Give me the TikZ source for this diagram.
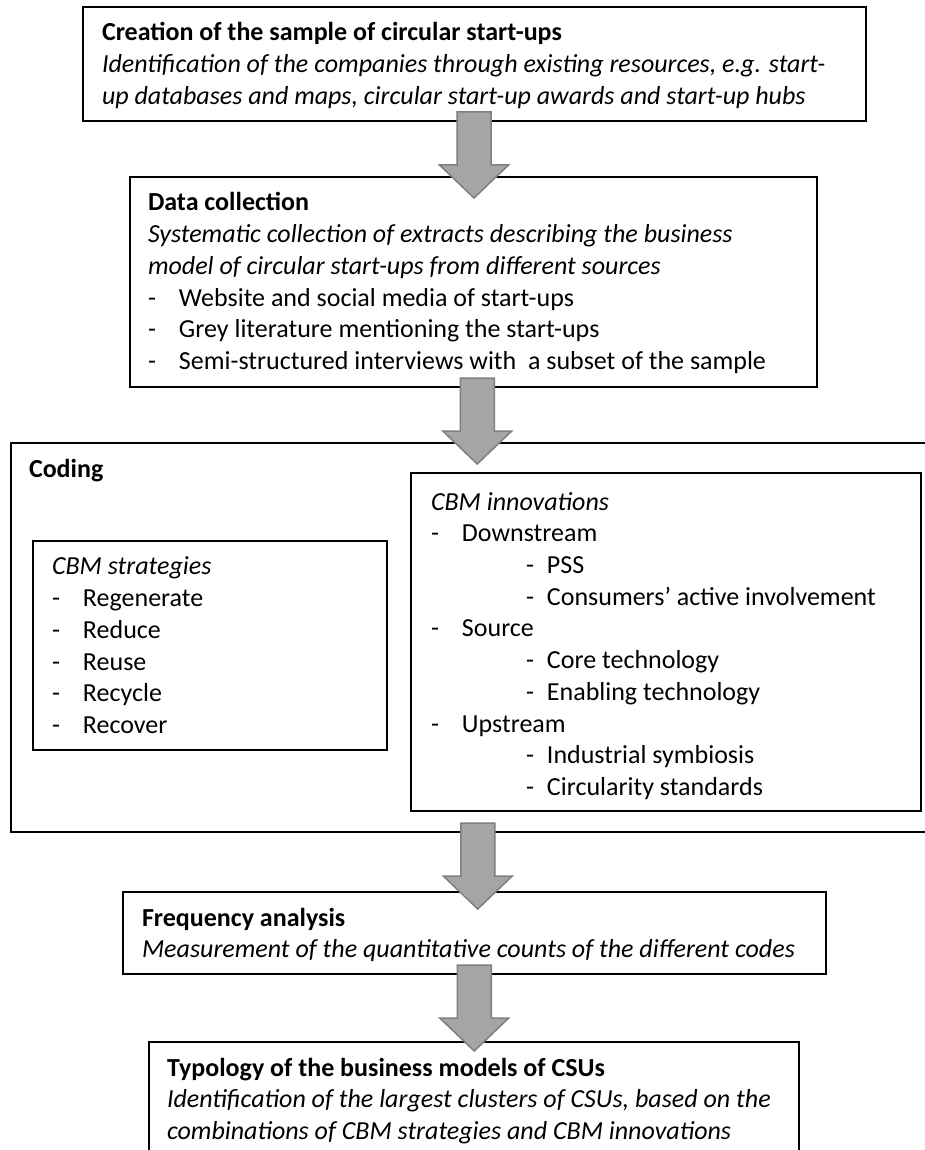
\documentclass[tikz,border=0pt]{standalone}
\usepackage{fontspec}
\setmainfont{Carlito}
\usetikzlibrary{calc}
\definecolor{arrowfill}{RGB}{165,165,165}
\definecolor{arrowedge}{RGB}{127,127,127}
\tikzset{
  box/.style={draw=black, line width=1.8pt, fill=white, inner sep=0pt, outer sep=0pt, anchor=north west},
  body/.style={anchor=north west, inner sep=0pt, outer sep=0pt, align=left,
               font=\fontsize{26}{31.7}\selectfont},
  blockarrow/.style={draw=arrowedge, fill=arrowfill, line width=1.5pt, line join=miter},
}
% block arrow from the bottom of one stage to the top of the next
\newcommand\stagearrow[2]{%
  \path[blockarrow] let \p1=(#1.south), \p2=(#2.north),
      \p3=($(\p1)!0.5!(\p2)$) in
    (\x3-17pt,\y1+9pt) -- ++(0pt,-53pt) -- ++(-17.5pt,0pt) -- ++(34.5pt,-33pt)
    -- ++(34.5pt,33pt) -- ++(-17.5pt,0pt) -- ++(0pt,53pt) -- cycle;}
\newcommand\dashitem[1]{\makebox[31pt][l]{-}#1}
\newcommand\nesteditem[1]{\hspace*{95pt}\makebox[21pt][l]{-}#1}
\begin{document}
\begin{tikzpicture}[x=1pt,y=-1pt]
\clip (0,0) rectangle (925,1150);
\fill[white] (0,0) rectangle (925,1150);

% stage boxes
\node[box, minimum width=783pt, minimum height=114pt] (create) at (83,7) {};
\node[box, minimum width=687pt, minimum height=210pt] (collect) at (130,177) {};
\node[box, minimum width=940pt, minimum height=389pt] (coding) at (11,443) {};
\node[box, minimum width=354pt, minimum height=209pt] (strategies) at (33,541) {};
\node[box, minimum width=510pt, minimum height=338pt] (innovations) at (411,473) {};
\node[box, minimum width=703pt, minimum height=82pt] (frequency) at (123,892) {};
\node[box, minimum width=650pt, minimum height=160pt] (typology) at (149,1042) {};

% texts
\node[body] (createtxt) at (102,18.8) {\strut\textbf{Creation of the sample of circular start-ups}\\
  \textit{Identification of the companies through existing resources, e.g. start-}\\
  \textit{up databases and maps, circular start-up awards and start-up hubs}};
\node[body] (collecttxt) at (148,188.8) {\strut\textbf{Data collection}\\
  \textit{Systematic collection of extracts describing the business}\\
  \textit{model of circular start-ups from different sources}\\
  \dashitem{Website and social media of start-ups}\\
  \dashitem{Grey literature mentioning the start-ups}\\
  \dashitem{Semi-structured interviews with\ \ a subset of the sample}};
\node[body] (codingtxt) at (29,455.8) {\strut\textbf{Coding}};
\node[body] (strategiestxt) at (52,552.8) {\strut\textit{CBM strategies}\\
  \dashitem{Regenerate}\\
  \dashitem{Reduce}\\
  \dashitem{Reuse}\\
  \dashitem{Recycle}\\
  \dashitem{Recover}};
\node[body] (innovationstxt) at (431,488) {\strut\textit{CBM innovations}\\
  \dashitem{Downstream}\\
  \nesteditem{PSS}\\
  \nesteditem{Consumers’ active involvement}\\
  \dashitem{Source}\\
  \nesteditem{Core technology}\\
  \nesteditem{Enabling technology}\\
  \dashitem{Upstream}\\
  \nesteditem{Industrial symbiosis}\\
  \nesteditem{Circularity standards}};
\node[body] (frequencytxt) at (142,903.8) {\strut\textbf{Frequency analysis}\\
  \textit{Measurement of the quantitative counts of the different codes}};
\node[body] (typologytxt) at (167,1053.8) {\strut\textbf{Typology of the business models of CSUs}\\
  \textit{Identification of the largest clusters of CSUs, based on the}\\
  \textit{combinations of CBM strategies and CBM innovations}};

% flow arrows
\stagearrow{create}{collect}
\stagearrow{collect}{coding}
\stagearrow{coding}{frequency}
\stagearrow{frequency}{typology}
\end{tikzpicture}
\end{document}
